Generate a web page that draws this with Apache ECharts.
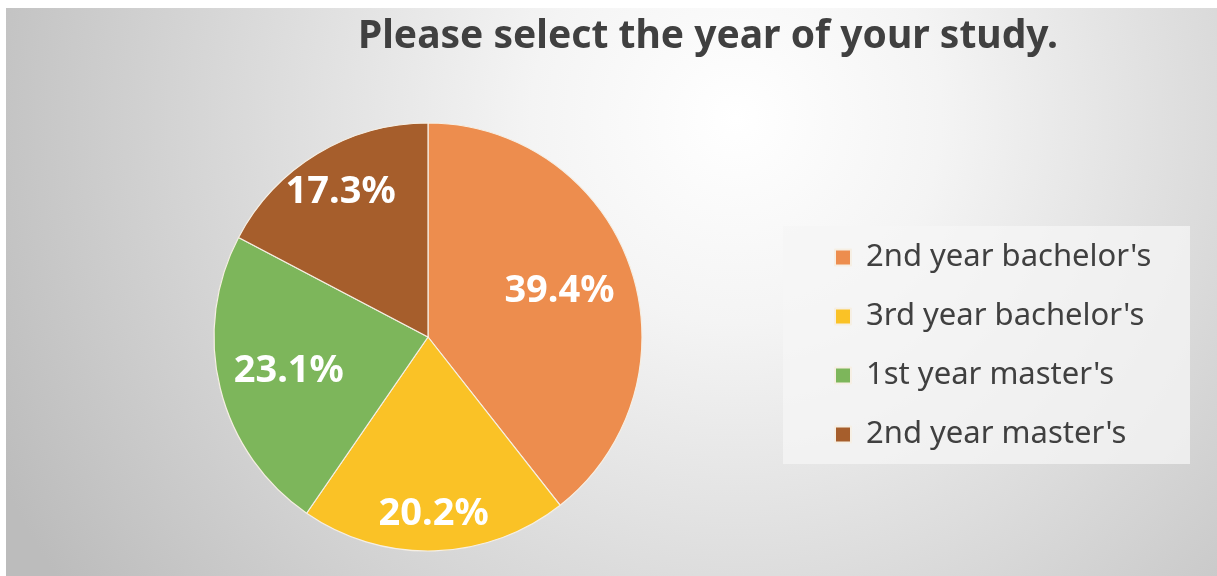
<!DOCTYPE html>
<html>
<head>
<meta charset="utf-8">
<script src="https://cdn.jsdelivr.net/npm/echarts@6/dist/echarts.min.js"></script>
<style>
  html, body { margin: 0; padding: 0; background: #ffffff; width: 1217px; height: 576px; overflow: hidden; }
  #chart { position: absolute; left: 6px; top: 8px; width: 1211px; height: 568px; }
</style>
</head>
<body>
<div id="chart"></div>
<script>
// ---- data ----
var categories = ["2nd year bachelor's", "3rd year bachelor's", "1st year master's", "2nd year master's"];
var values = [39.4, 20.2, 23.1, 17.3];
var titleText = "Please select the year of your study.";

// ---- styles / layout ----
var sliceColors = ['#ED8D4E', '#FAC226', '#7DB65B', '#A65E2C'];
var pieCenter = [422, 329];
var pieRadius = 214;
var labelRadiusRatio = [0.65, 0.83, 0.67, 0.79];

var chart = echarts.init(document.getElementById('chart'), null, { renderer: 'canvas' });

var pieData = categories.map(function (name, i) {
  return { name: name, value: values[i], itemStyle: { color: sliceColors[i] } };
});

var option = {
  animation: false,
  backgroundColor: {
    type: 'radial', x: 730, y: 110, r: 820, global: true,
    colorStops: [
      { offset: 0, color: '#ffffff' },
      { offset: 0.25, color: '#f4f4f4' },
      { offset: 1, color: '#bcbcbc' }
    ]
  },
  title: {
    text: titleText,
    left: 697, top: 4, textAlign: 'center',
    textStyle: { fontFamily: 'Noto Sans', fontWeight: 'bold', fontSize: 39, color: '#404040' }
  },
  legend: {
    orient: 'vertical',
    left: 777, top: 218,
    padding: [16, 21, 14, 51],
    itemGap: 28,
    itemWidth: 16, itemHeight: 16,
    icon: 'rect',
    backgroundColor: 'rgba(246,246,246,0.75)',
    selectedMode: false,
    data: categories,
    textStyle: {
      fontFamily: 'Noto Sans', fontSize: 31, color: '#404040',
      lineHeight: 30, width: 303, padding: [0, 0, 0, 10]
    }
  },
  series: [{
    type: 'pie',
    center: pieCenter,
    radius: pieRadius,
    startAngle: 90,
    clockwise: true,
    silent: true,
    avoidLabelOverlap: false,
    itemStyle: { borderColor: '#f6efe4', borderWidth: 1.2 },
    label: {
      show: true,
      position: 'inside',
      formatter: function (p) { return p.value.toFixed(1) + '%'; },
      fontFamily: 'Noto Sans', fontWeight: 'bold', fontSize: 38, color: '#ffffff'
    },
    labelLine: { show: false },
    labelLayout: function (params) {
      var r = params.labelRect;
      var lx = r.x + r.width / 2, ly = r.y + r.height / 2;
      var vx = lx - pieCenter[0], vy = ly - pieCenter[1];
      var d = Math.sqrt(vx * vx + vy * vy) || 1;
      var target = labelRadiusRatio[params.dataIndex] * pieRadius;
      return { dx: vx / d * (target - d), dy: vy / d * (target - d) };
    },
    data: pieData
  }]
};
chart.setOption(option);
</script>
</body>
</html>
